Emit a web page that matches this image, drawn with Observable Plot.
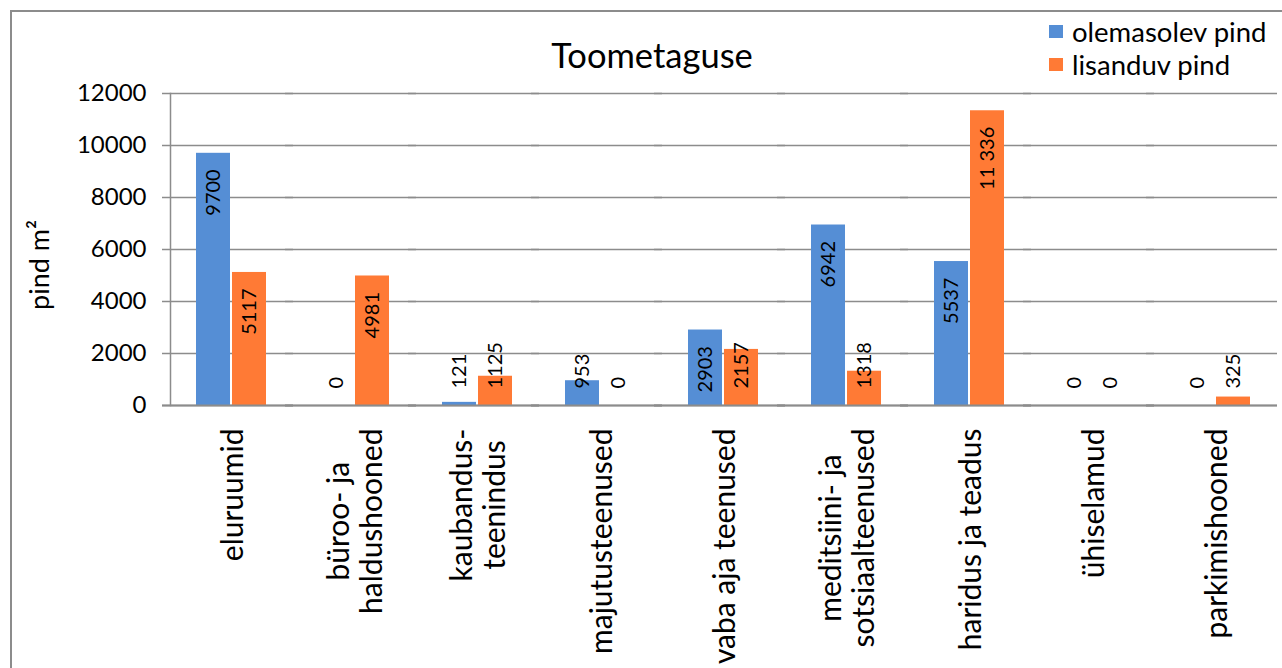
<!DOCTYPE html>
<html><head><meta charset="utf-8">
<script src="https://cdn.jsdelivr.net/npm/d3@7"></script>
<script src="https://cdn.jsdelivr.net/npm/@observablehq/plot@0.6"></script>
<style>
body{margin:0;background:#fff;font-family:Lato,sans-serif;color:#000;}
#wrap{position:relative;width:1282px;height:668px;overflow:hidden;background:#fff;}
#border{position:absolute;left:10px;top:10px;width:1300px;height:700px;border:2px solid #8c8c8c;box-sizing:border-box;}
#chart{position:absolute;left:0;top:0;}
#title{position:absolute;left:452px;width:400px;top:38px;text-align:center;font-size:34.5px;line-height:34px;}
#ytitle{position:absolute;left:38px;top:265px;transform:translate(-50%,-50%) rotate(-90deg);font-size:27px;white-space:nowrap;}
#legend{position:absolute;left:1049px;top:15px;font-size:27.5px;line-height:33px;}
#legend .row{display:flex;align-items:center;}
#legend .sw{width:14px;height:13px;margin-right:9px;}
</style>
</head><body>
<div id="wrap">
  <div id="border"></div>
  <div id="chart"></div>
  <div id="title">Toometaguse</div>
  <div id="ytitle">pind m²</div>
  <div id="legend"></div>
</div>
<script>
const categories = ["eluruumid","büroo- ja haldushooned","kaubandus-teenindus","majutusteenused","vaba aja teenused","meditsiini- ja sotsiaalteenused","haridus ja teadus","ühiselamud","parkimishooned"];
const categoryLabels = ["eluruumid","büroo- ja\nhaldushooned","kaubandus-\nteenindus","majutusteenused","vaba aja teenused","meditsiini- ja\nsotsiaalteenused","haridus ja teadus","ühiselamud","parkimishooned"];
const series = ["olemasolev pind","lisanduv pind"];
const seriesColors = ["#558ed5","#ff7a35"];
const existing = [9700, 0, 121, 953, 2903, 6942, 5537, 0, 0];
const added = [5117, 4981, 1125, 0, 2157, 1318, 11336, 0, 325];
const yTicks = [0, 2000, 4000, 6000, 8000, 10000, 12000];

const rows = categories.flatMap((c, i) => [
  {category: c, series: series[0], value: existing[i]},
  {category: c, series: series[1], value: added[i]}
]);
const fmt = v => v >= 10000 ? d3.format(",")(v).replace(/,/g, " ") : String(v);
const big = rows.filter(d => d.value >= 2500);
const small = rows.filter(d => d.value < 2500);

const plot = Plot.plot({
  width: 1282,
  height: 668,
  marginLeft: 166,
  marginRight: 2,
  marginTop: 93,
  marginBottom: 263,
  style: {fontFamily: "Lato, sans-serif", background: "transparent", color: "#000"},
  fx: {domain: categories, padding: 0, axis: null},
  x: {domain: series, paddingInner: 0.054, paddingOuter: 0.703, axis: null},
  y: {domain: [0, 12000], axis: null},
  color: {domain: series, range: seriesColors},
  marks: [
    Plot.ruleY(yTicks, {stroke: "#8c8c8c", strokeWidth: 1.5, insetLeft: -8}),
    Plot.frame({anchor: "left", facetAnchor: "left", stroke: "#8c8c8c", strokeWidth: 1.5}),
    Plot.axisY({ticks: yTicks, tickSize: 0, tickPadding: 24, fontSize: 24, tickFormat: d => String(d), label: null}),
    Plot.axisFx({anchor: "bottom", tickRotate: -90, tickSize: 0, tickPadding: 23, fontSize: 30, lineHeight: 1.1, label: null,
      tickFormat: c => categoryLabels[categories.indexOf(c)]}),
    Plot.barY(rows, {fx: "category", x: "series", y: "value", fill: "series"}),
    Plot.ruleY([0], {stroke: "#8c8c8c", strokeWidth: 2, insetLeft: -8}),
    Plot.text(big, {fx: "category", x: "series", y: "value", text: d => fmt(d.value), rotate: -90, textAnchor: "end", dy: 16, fontSize: 20}),
    Plot.text(small, {fx: "category", x: "series", y: 0, text: d => fmt(d.value), rotate: -90, textAnchor: "start", dy: -17, fontSize: 20})
  ]
});
document.getElementById("chart").appendChild(plot);

// center the lines of multi-line category labels within their block (as in the reference)
plot.querySelectorAll('g[aria-label="fx-axis tick label"] text').forEach(t => {
  const spans = t.querySelectorAll("tspan");
  if (spans.length > 1) {
    const w = t.getBBox().width;
    t.setAttribute("text-anchor", "middle");
    spans.forEach(s => s.setAttribute("x", -w / 2));
  }
});

const legend = document.getElementById("legend");
series.forEach((s, i) => {
  const row = document.createElement("div");
  row.className = "row";
  const sw = document.createElement("span");
  sw.className = "sw";
  sw.style.background = seriesColors[i];
  const lab = document.createElement("span");
  lab.textContent = s;
  row.appendChild(sw); row.appendChild(lab);
  legend.appendChild(row);
});
</script>
</body></html>
